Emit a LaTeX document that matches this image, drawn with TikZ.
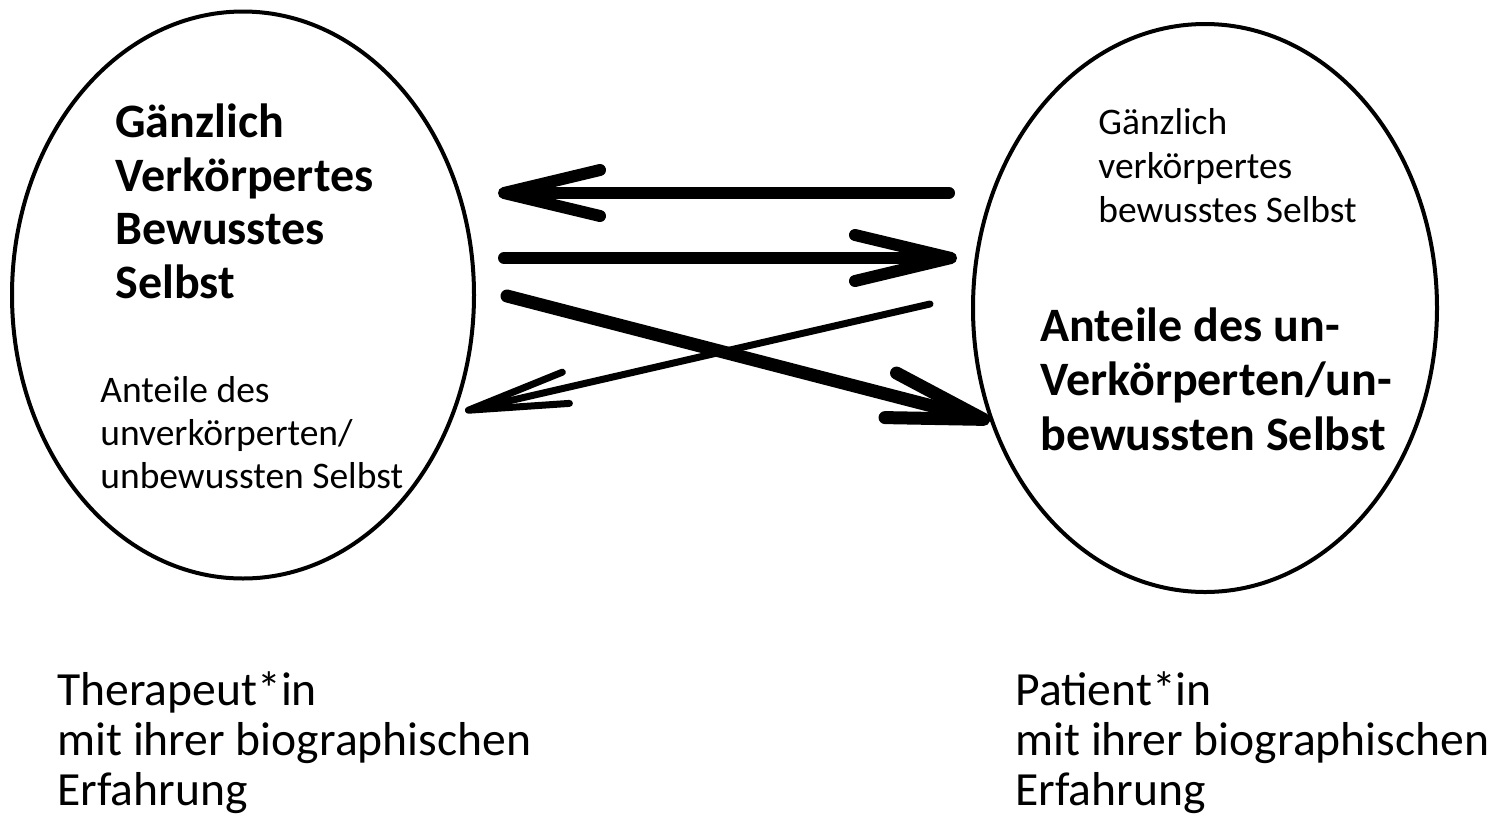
\documentclass[tikz,border=0pt]{standalone}
\usepackage{fontspec}
\setmainfont{Carlito}
\usetikzlibrary{arrows.meta,shapes.geometric}

\tikzset{
  selbst/.style={draw, ellipse, line width=2pt, inner sep=0pt},
  dick/.style={line width=6pt, line cap=round, -{Straight Barb[length=48pt, width=23pt, round]}},
  duenn/.style={line width=3.5pt, line cap=round, -{Straight Barb[length=50pt, width=16pt, round]}},
  schrift/.style={anchor=base west, align=left, inner sep=0pt},
  gross/.style={schrift, font=\bfseries\fontsize{24}{26.75}\selectfont},
  klein/.style={schrift, font=\fontsize{18.75}{21.5}\selectfont},
  unten/.style={schrift, font=\fontsize{23.8}{25}\selectfont},
}

\begin{document}
\begin{tikzpicture}[x=0.5pt,y=-0.5pt]
    \useasboundingbox (0,0) rectangle (1490,826);

    % Ellipsen
    \node[selbst, minimum width=231pt, minimum height=283.5pt] (ther) at (243,295) {};
    \node[selbst, minimum width=232pt, minimum height=284pt] (pat) at (1205,308) {};

    % Texte in den Ellipsen (Anker: letzte Zeile)
    \node[gross] (therbew) at (115,298) {Gänzlich\\Verkörpertes\\Bewusstes\\Selbst};
    \node[klein] (therunb) at (100,488) {Anteile des\\unverkörperten/\\unbewussten Selbst};
    \node[klein, font=\fontsize{18.75}{22}\selectfont] (patbew) at (1098,222) {Gänzlich\\verkörpertes\\bewusstes Selbst};
    \node[gross, font=\bfseries\fontsize{24}{27.25}\selectfont] (patunb) at (1040,450) {Anteile des un-\\Verkörperten/un-\\bewussten Selbst};

    % Pfeile
    \coordinate (von1) at (949,193);
    \coordinate (nach1) at (498,193);
    \coordinate (von2) at (504,258);
    \coordinate (nach2) at (957,258);
    \coordinate (von3) at (507,296);
    \coordinate (nach3) at (990,421);
    \coordinate (von4) at (930,304);
    \coordinate (nach4) at (465,411);

    \draw[dick] (von1) -- (nach1);
    \draw[dick] (von2) -- (nach2);
    \draw[dick, line width=6.5pt] (von3) -- (nach3);
    \draw[duenn] (von4) -- (nach4);

    % Beschriftung
    \node[unten] (therlabel) at (57,805) {Therapeut*in\\mit ihrer biographischen\\Erfahrung};
    \node[unten] (patlabel) at (1015,805) {Patient*in\\mit ihrer biographischen\\Erfahrung};
\end{tikzpicture}
\end{document}
